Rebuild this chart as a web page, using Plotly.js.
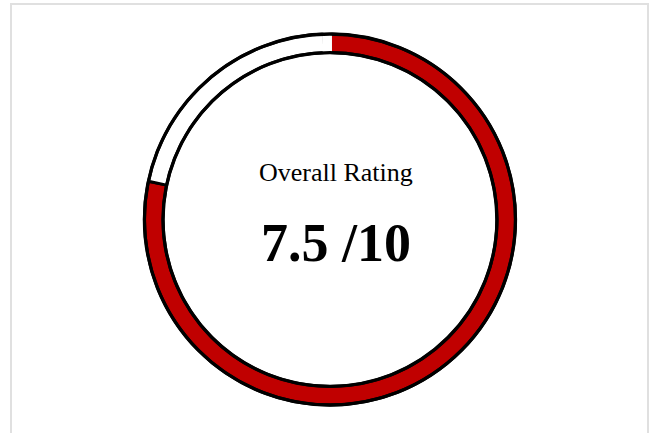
<!DOCTYPE html>
<html>
<head>
<meta charset="utf-8">
<script src="https://cdn.plot.ly/plotly-3.0.1.min.js"></script>
<style>
  html, body { margin: 0; padding: 0; background: #ffffff; overflow: hidden; }
  #frame { position: absolute; left: 10px; top: 3px; width: 639px; height: 480px;
           box-sizing: border-box; border: 2px solid #e0e0e0; }
  #chart { position: absolute; left: 0; top: 0; width: 654px; height: 433px; }
</style>
</head>
<body>
<div id="frame"></div>
<div id="chart"></div>
<script>
// Data
const sliceLabels = ['Rating', 'Remaining', 'Gap'];
const sliceValues = [7.83, 2.12, 0.05];
const sliceColors = ['#c00000', '#ffffff', '#ffffff'];
const sliceLineColors = ['#000000', '#000000', '#ffffff'];
const titleText = 'Overall Rating';
const scoreText = '7.5 /10';

const dom = { x: [0.2209, 0.7882], y: [0.0647, 0.9215] };

const ring = {
  type: 'pie',
  labels: sliceLabels,
  values: sliceValues,
  sort: false,
  direction: 'clockwise',
  rotation: 0,
  hole: 0.9,
  domain: dom,
  textinfo: 'none',
  hoverinfo: 'none',
  showlegend: false,
  marker: { colors: sliceColors, line: { color: sliceLineColors, width: [3, 3, 4] } }
};

const outline = {
  type: 'pie',
  labels: ['Outline'],
  values: [1],
  sort: false,
  hole: 0.9,
  domain: dom,
  textinfo: 'none',
  hoverinfo: 'none',
  showlegend: false,
  marker: { colors: ['rgba(0,0,0,0)'], line: { color: '#000000', width: 3.3 } }
};

const layout = {
  width: 654,
  height: 433,
  margin: { l: 0, r: 0, t: 0, b: 0 },
  paper_bgcolor: 'rgba(0,0,0,0)',
  plot_bgcolor: 'rgba(0,0,0,0)',
  showlegend: false,
  annotations: [
    { text: titleText, x: 335.5 / 654, y: 1 - 172.5 / 433, xref: 'paper', yref: 'paper',
      xanchor: 'center', yanchor: 'middle', showarrow: false,
      font: { family: 'Liberation Serif, Times New Roman, serif', size: 26, color: '#000000' } },
    { text: '<b>' + scoreText + '</b>', x: 336 / 654, y: 1 - 243 / 433, xref: 'paper', yref: 'paper',
      xanchor: 'center', yanchor: 'middle', showarrow: false,
      font: { family: 'Liberation Serif, Times New Roman, serif', size: 54, color: '#000000' } }
  ]
};

Plotly.newPlot('chart', [ring, outline], layout, { displayModeBar: false, staticPlot: true });
</script>
</body>
</html>
